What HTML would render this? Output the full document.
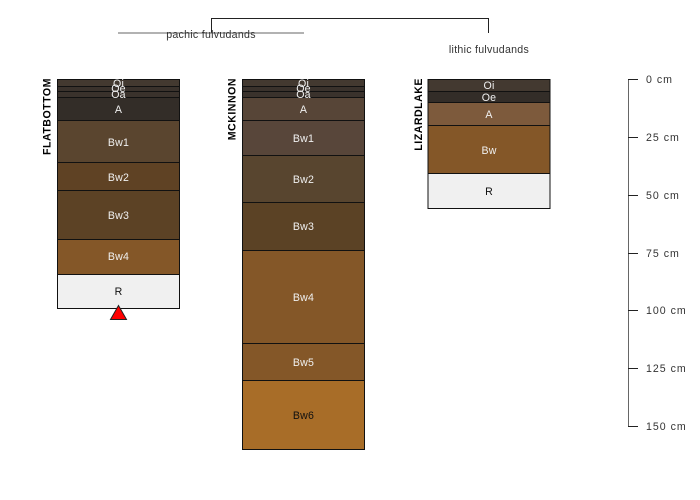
<!DOCTYPE html>
<html>
<head>
<meta charset="utf-8">
<style>
html,body{margin:0;padding:0;background:#fff}
svg{display:block}
text{font-family:"Liberation Sans",sans-serif;font-size:10.6px}
.l{text-anchor:middle;fill:#f0f0f0;letter-spacing:.2px}
.d{text-anchor:middle;fill:#111;letter-spacing:.2px}
.s{font-weight:bold;text-anchor:end;fill:#000;letter-spacing:.5px}
.t{fill:#333;letter-spacing:1px}
.h{fill:#333;text-anchor:middle;letter-spacing:.28px}
rect{stroke:#111;stroke-width:1}
</style>
</head>
<body>
<svg width="700" height="500" viewBox="0 0 700 500" xmlns="http://www.w3.org/2000/svg">
<rect x="0" y="0" width="700" height="500" fill="#fff" style="stroke:none"/>

<!-- dendrogram -->
<path d="M211.500 33V18.500H488.500V33" fill="none" stroke="#222" stroke-width="1"/>
<path d="M118 33H304" fill="none" stroke="#666" stroke-width="1"/>
<text class="h" x="211" y="38">pachic fulvudands</text>
<text class="h" x="489" y="53">lithic fulvudands</text>

<!-- FLATBOTTOM -->
<text class="s" transform="translate(50.500,78) rotate(-90)">FLATBOTTOM</text>
<rect x="57.500" y="79.500" width="122" height="7" fill="#433930"/>
<rect x="57.500" y="86.500" width="122" height="5" fill="#3a322c"/>
<rect x="57.500" y="91.500" width="122" height="6" fill="#3a322c"/>
<rect x="57.500" y="97.500" width="122" height="23" fill="#332d28"/>
<rect x="57.500" y="120.500" width="122" height="42" fill="#5a452f"/>
<rect x="57.500" y="162.500" width="122" height="28" fill="#5f4224"/>
<rect x="57.500" y="190.500" width="122" height="49" fill="#5c4225"/>
<rect x="57.500" y="239.500" width="122" height="35" fill="#845728"/>
<rect x="57.500" y="274.500" width="122" height="34" fill="#f0f0f0"/>
<text class="l" x="118.500" y="87">Oi</text>
<text class="l" x="118.500" y="92">Oe</text>
<text class="l" x="118.500" y="98">Oa</text>
<text class="l" x="118.500" y="113">A</text>
<text class="l" x="118.500" y="146">Bw1</text>
<text class="l" x="118.500" y="181">Bw2</text>
<text class="l" x="118.500" y="219">Bw3</text>
<text class="l" x="118.500" y="260">Bw4</text>
<text class="d" x="118.500" y="295">R</text>
<polygon points="118.500,305.500 110.500,319.500 126.500,319.500" fill="#ff0000" stroke="#222" stroke-width="1"/>

<!-- MCKINNON -->
<text class="s" transform="translate(235.500,78) rotate(-90)">MCKINNON</text>
<rect x="242.500" y="79.500" width="122" height="7" fill="#433930"/>
<rect x="242.500" y="86.500" width="122" height="5" fill="#3a322c"/>
<rect x="242.500" y="91.500" width="122" height="6" fill="#3a322c"/>
<rect x="242.500" y="97.500" width="122" height="23" fill="#574537"/>
<rect x="242.500" y="120.500" width="122" height="35" fill="#58463a"/>
<rect x="242.500" y="155.500" width="122" height="47" fill="#58452f"/>
<rect x="242.500" y="202.500" width="122" height="48" fill="#5b4225"/>
<rect x="242.500" y="250.500" width="122" height="93" fill="#845728"/>
<rect x="242.500" y="343.500" width="122" height="37" fill="#845728"/>
<rect x="242.500" y="380.500" width="122" height="69" fill="#a86d28"/>
<text class="l" x="303.500" y="87">Oi</text>
<text class="l" x="303.500" y="92">Oe</text>
<text class="l" x="303.500" y="98">Oa</text>
<text class="l" x="303.500" y="113">A</text>
<text class="l" x="303.500" y="142">Bw1</text>
<text class="l" x="303.500" y="183">Bw2</text>
<text class="l" x="303.500" y="230">Bw3</text>
<text class="l" x="303.500" y="301">Bw4</text>
<text class="l" x="303.500" y="366">Bw5</text>
<text class="d" x="303.500" y="419">Bw6</text>

<!-- LIZARDLAKE -->
<text class="s" transform="translate(422,78) rotate(-90)">LIZARDLAKE</text>
<rect x="428" y="79.500" width="122" height="12" fill="#433930"/>
<rect x="428" y="91.500" width="122" height="11" fill="#332d28"/>
<rect x="428" y="102.500" width="122" height="23" fill="#7d5a3c"/>
<rect x="428" y="125.500" width="122" height="48" fill="#845728"/>
<rect x="428" y="173.500" width="122" height="35" fill="#f0f0f0"/>
<text class="l" x="489" y="89">Oi</text>
<text class="l" x="489" y="101">Oe</text>
<text class="l" x="489" y="118">A</text>
<text class="l" x="489" y="154">Bw</text>
<text class="d" x="489" y="195">R</text>

<!-- depth axis -->
<path d="M628.500 79V426" fill="none" stroke="#666" stroke-width="1"/>
<path d="M628 79.500H638M628 137.500H638M628 195.500H638M628 253.500H638M628 310.500H638M628 368.500H638M628 426.500H638" fill="none" stroke="#222" stroke-width="1"/>
<text class="t" x="646" y="83">0 cm</text>
<text class="t" x="646" y="141">25 cm</text>
<text class="t" x="646" y="199">50 cm</text>
<text class="t" x="646" y="257">75 cm</text>
<text class="t" x="646" y="314">100 cm</text>
<text class="t" x="646" y="372">125 cm</text>
<text class="t" x="646" y="430">150 cm</text>
</svg>
</body>
</html>
